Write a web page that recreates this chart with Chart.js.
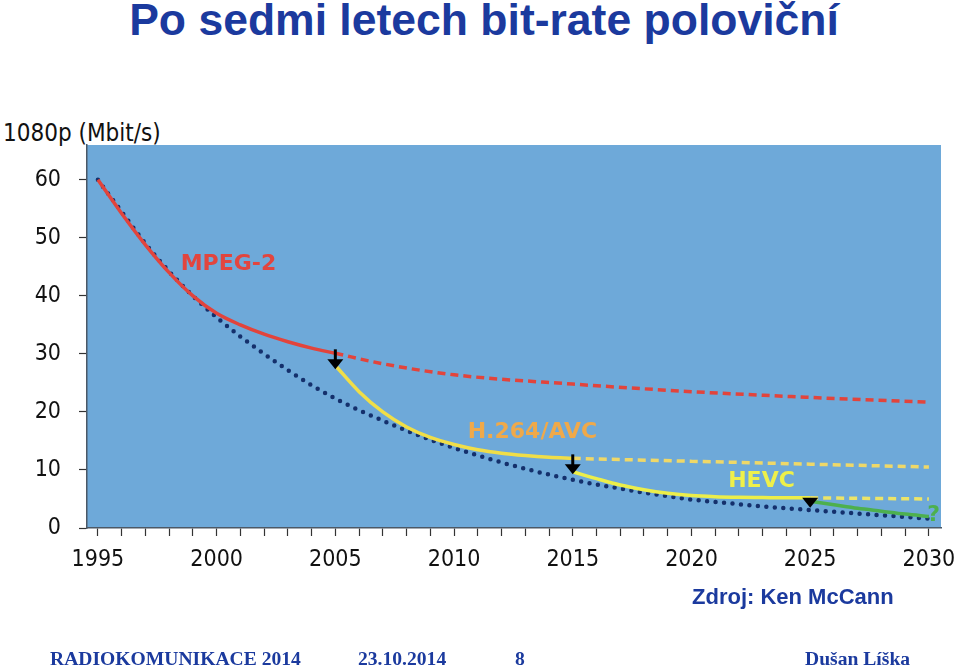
<!DOCTYPE html>
<html>
<head>
<meta charset="utf-8">
<script src="https://cdn.jsdelivr.net/npm/chart.js@4"></script>
<style>
  html, body { margin: 0; padding: 0; background: #fff; }
  body { width: 960px; height: 671px; position: relative; overflow: hidden; }
  #myChart { position: absolute; left: 0; top: 0; }
  .txt { position: absolute; white-space: nowrap; }
  .title { left: 0; width: 968px; top: -5px; text-align: center; font: bold 44.5px "Liberation Sans", Arial, sans-serif; color: #1b3a9e; }
  .unit { left: 3px; top: 119px; font: 24px "DejaVu Sans Condensed", "DejaVu Sans", sans-serif; color: #111; }
  .src { left: 692px; top: 584px; font: bold 22px "Liberation Sans", Arial, sans-serif; color: #1b3a9e; }
  .foot { top: 648px; font: bold 19.6px "Liberation Serif", "Times New Roman", serif; color: #1b3a9e; }
</style>
</head>
<body>
<div class="txt title">Po sedmi letech bit-rate poloviční</div>
<div class="txt unit">1080p (Mbit/s)</div>
<canvas id="myChart" width="960" height="671"></canvas>
<div class="txt src">Zdroj: Ken McCann</div>
<div class="txt foot" style="left:50px">RADIOKOMUNIKACE 2014</div>
<div class="txt foot" style="left:358px">23.10.2014</div>
<div class="txt foot" style="left:515px">8</div>
<div class="txt foot" style="left:805px">Dušan Líška</div>
<script>
// data (year -> Mbit/s for 1080p)
const allYears = [1995, 1996, 1997, 1998, 1999, 2000, 2001, 2002, 2003, 2004, 2005, 2006,
  2007, 2008, 2009, 2010, 2011, 2012, 2013, 2014, 2015, 2016, 2017, 2018, 2019, 2020,
  2021, 2022, 2023, 2024, 2025, 2026, 2027, 2028, 2029, 2030];
const lowerBound = [60, 54.5, 49.0, 44.2, 40.0, 36.3, 33.0, 30.0, 27.2, 24.6, 22.3, 20.3,
  18.5, 16.8, 15.2, 13.8, 12.5, 11.3, 10.2, 9.2, 8.3, 7.5, 6.8, 6.1, 5.5, 4.9,
  4.5, 4.1, 3.7, 3.4, 3.1, 2.8, 2.5, 2.2, 1.9, 1.6];

const mpegYears = [1995, 1996, 1997, 1998, 1999, 2000, 2001, 2002, 2003, 2004, 2005];
const mpegSolid = [60, 54.2, 48.8, 44.0, 40.0, 37.0, 35.0, 33.4, 32.1, 31.0, 30.1];
const mpegDashYears = [2005, 2007, 2010, 2015, 2020, 2025, 2030];
const mpegDashed = [30.1, 28.3, 26.4, 24.8, 23.5, 22.5, 21.7];

const avcYears = [2005, 2006, 2007, 2008, 2009, 2010, 2011, 2012, 2013, 2014, 2015];
const avcSolid = [28.0, 23.5, 20.0, 17.4, 15.6, 14.4, 13.5, 12.9, 12.5, 12.2, 12.0];
const avcDashYears = [2015, 2020, 2025, 2030];
const avcDashed = [12.0, 11.5, 11.0, 10.5];

const hevcYears = [2015, 2016, 2017, 2018, 2019, 2020, 2021, 2022, 2023, 2024, 2025];
const hevcSolid = [9.7, 8.5, 7.4, 6.6, 6.0, 5.6, 5.4, 5.3, 5.25, 5.2, 5.2];
const hevcDashYears = [2025, 2030];
const hevcDashed = [5.2, 5.0];

const nextYears = [2025, 2026, 2027, 2028, 2029, 2030];
const nextCodec = [4.6, 4.0, 3.4, 2.9, 2.4, 2.0];

// codec switch points (arrows)
const switchYears = [2005, 2015, 2025];
const switchValues = [30.1, 12.0, 5.2];

const xTicks = allYears;
const yTicks = [0, 10, 20, 30, 40, 50, 60];

function pts(xs, ys) {
  return xs.map((x, i) => ({ x: x, y: ys[i] }));
}

// plot background
const bgPlugin = {
  id: "plotBg",
  beforeDraw(chart) {
    const a = chart.chartArea;
    const c = chart.ctx;
    c.save();
    c.fillStyle = "#6ea9d9";
    c.fillRect(a.left, a.top, a.right - a.left, a.bottom - a.top);
    c.restore();
  },
};

// arrows and codec names
const notesPlugin = {
  id: "notes",
  afterDatasetsDraw(chart) {
    const c = chart.ctx;
    const xs = chart.scales.x;
    const ys = chart.scales.y;
    const a = chart.chartArea;
    c.save();
    c.beginPath();
    c.rect(a.left, a.top, a.right - a.left, a.bottom - a.top);
    c.clip();

    const stems = [8, 8, 0];
    switchYears.forEach((yr, i) => {
      const px = xs.getPixelForValue(yr);
      const py = ys.getPixelForValue(switchValues[i]);
      c.fillStyle = "#000";
      c.strokeStyle = "#000";
      if (stems[i] > 0) {
        c.lineWidth = 3;
        c.beginPath();
        c.moveTo(px, py - 4);
        c.lineTo(px, py + stems[i]);
        c.stroke();
      }
      const top = py + (stems[i] > 0 ? stems[i] - 2 : 0);
      c.beginPath();
      c.moveTo(px - 8, top);
      c.lineTo(px + 8, top);
      c.lineTo(px, top + 10);
      c.closePath();
      c.fill();
    });

    c.textAlign = "center";
    c.textBaseline = "middle";
    c.font = "bold 22px 'DejaVu Sans', Verdana, sans-serif";
    const names = [
      ["MPEG-2", 2000.5, 45.5, "#e2453e"],
      ["H.264/AVC", 2013.3, 16.5, "#efa94a"],
      ["HEVC", 2022.95, 8.1, "#eef04a"],
      ["?", 2030.2, 2.2, "#4db04e"],
    ];
    names.forEach((n) => {
      c.fillStyle = n[3];
      c.fillText(n[0], xs.getPixelForValue(n[1]), ys.getPixelForValue(n[2]));
    });
    c.restore();
  },
};

const lineBase = {
  pointRadius: 0,
  pointHoverRadius: 0,
  fill: false,
  cubicInterpolationMode: "monotone",
  borderWidth: 3.5,
};

const ctx = document.getElementById("myChart");
const data = {
  datasets: [
    { ...lineBase, label: "MPEG-2", data: pts(mpegYears, mpegSolid), borderColor: "#e2443c" },
    { ...lineBase, label: "MPEG-2 (dál)", data: pts(mpegDashYears, mpegDashed), borderColor: "#e2443c", borderDash: [8, 5] },
    { ...lineBase, label: "H.264/AVC", data: pts(avcYears, avcSolid), borderColor: "#f0de48" },
    { ...lineBase, label: "H.264/AVC (dál)", data: pts(avcDashYears, avcDashed), borderColor: "#efd868", borderDash: [8, 5] },
    { ...lineBase, label: "HEVC", data: pts(hevcYears, hevcSolid), borderColor: "#ecee4a" },
    { ...lineBase, label: "HEVC (dál)", data: pts(hevcDashYears, hevcDashed), borderColor: "#ece468", borderDash: [8, 5] },
    { ...lineBase, label: "?", data: pts(nextYears, nextCodec), borderColor: "#4db04e" },
    {
      ...lineBase,
      label: "limit",
      data: pts(allYears, lowerBound),
      borderColor: "#14306c",
      borderWidth: 4.5,
      borderDash: [0, 8.5],
      borderCapStyle: "round",
    },
  ],
};

const config = {
  type: "line",
  data: data,
  plugins: [bgPlugin, notesPlugin],
  options: {
    responsive: false,
    animation: false,
    events: [],
    layout: { padding: { top: 145, right: 19, bottom: 0, left: 0 } },
    plugins: { legend: { display: false }, tooltip: { enabled: false } },
    scales: {
      x: {
        type: "linear",
        min: 1994.54,
        max: 2030.51,
        afterBuildTicks: (s) => { s.ticks = xTicks.map((v) => ({ value: v })); },
        afterFit: (s) => { s.height = 143; s.paddingLeft = 0; s.paddingRight = 0; },
        grid: { drawOnChartArea: false, tickLength: 8, color: "#333", tickWidth: 1.2 },
        border: { display: true, color: "#4b5866", width: 1.5 },
        ticks: {
          autoSkip: false,
          maxRotation: 0,
          padding: 10,
          color: "#111",
          font: { family: "'DejaVu Sans Condensed', 'DejaVu Sans', sans-serif", size: 23 },
          callback: (v) => (v % 5 === 0 ? String(v) : ""),
        },
      },
      y: {
        min: 0,
        max: 66,
        afterBuildTicks: (s) => { s.ticks = yTicks.map((v) => ({ value: v })); },
        afterFit: (s) => { s.width = 87; s.paddingTop = 0; s.paddingBottom = 0; },
        grid: { drawOnChartArea: false, tickLength: 8, color: "#333", tickWidth: 1.2 },
        border: { display: true, color: "#4b5866", width: 1.5 },
        ticks: {
          padding: 18,
          color: "#111",
          font: { family: "'DejaVu Sans Condensed', 'DejaVu Sans', sans-serif", size: 23 },
        },
      },
    },
  },
};

const myChart = new Chart(ctx, config);
</script>
</body>
</html>
